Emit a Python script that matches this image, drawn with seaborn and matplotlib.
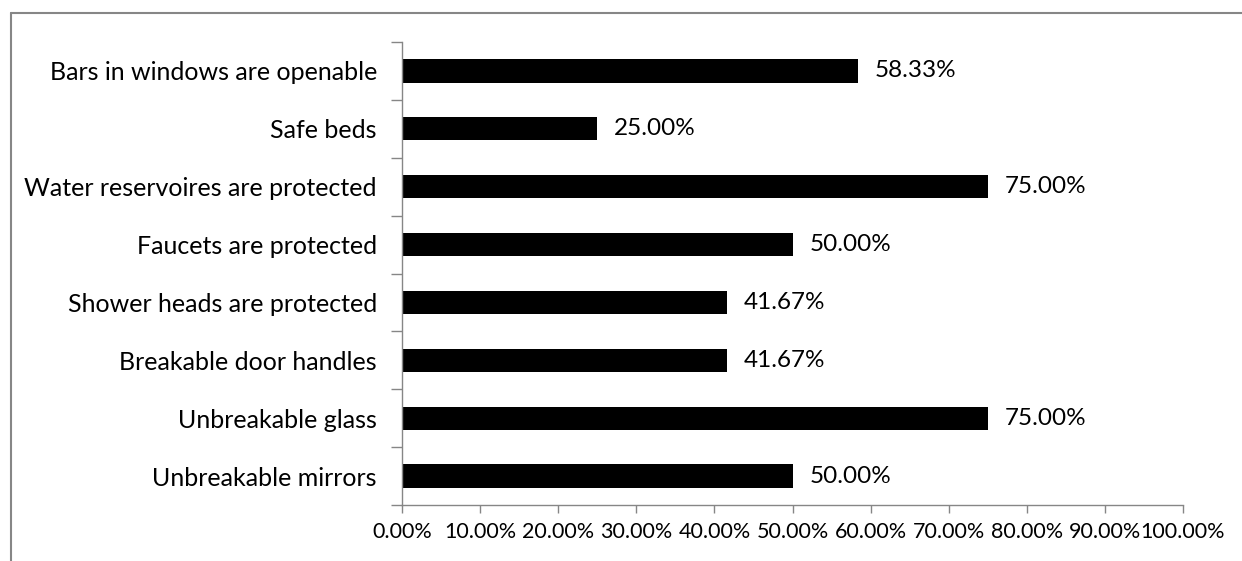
import matplotlib
matplotlib.use("Agg")
import matplotlib.pyplot as plt
from matplotlib.lines import Line2D
import seaborn as sns
import pandas as pd
import numpy as np

categories = [
    "Bars in windows are openable",
    "Safe beds",
    "Water reservoires are protected",
    "Faucets are protected",
    "Shower heads are protected",
    "Breakable door handles",
    "Unbreakable glass",
    "Unbreakable mirrors",
]
values = [58.33, 25.00, 75.00, 50.00, 41.67, 41.67, 75.00, 50.00]
x_ticks = [0, 10, 20, 30, 40, 50, 60, 70, 80, 90, 100]
x_tick_labels = [f"{t:.2f}%" for t in x_ticks]

sns.set_theme(style="white")
plt.rcParams["font.family"] = ["Lato", "DejaVu Sans"]

GRAY = "#868686"
FS_CAT = 18
FS_VAL = 17.5
FS_TICK = 15.5

df = pd.DataFrame({"category": categories, "value": values})

fig = plt.figure(figsize=(12.42, 5.61), dpi=100)
ax = fig.add_axes([402 / 1242, 1 - 505 / 561, (1183 - 402) / 1242, (505 - 42) / 561])

sns.barplot(data=df, x="value", y="category", orient="h", color="black",
            width=0.4, linewidth=0, saturation=1, ax=ax)

ax.set_xlim(0, 100)
ax.set_ylim(len(categories) - 0.5, -0.5)
ax.set_xticks(x_ticks)
ax.set_xticklabels(x_tick_labels, fontsize=FS_TICK, color="black")
ax.set_xlabel("")
ax.set_ylabel("")

ax.set_yticks(range(len(categories)))
ax.set_yticklabels(categories, fontsize=FS_CAT, color="black")
ax.set_yticks(np.arange(-0.5, len(categories), 1.0), minor=True)
ax.tick_params(axis="y", which="major", length=0, pad=18)
ax.tick_params(axis="y", which="minor", length=8, width=1, color=GRAY, left=True)
ax.tick_params(axis="x", which="major", length=6, width=1, color=GRAY, bottom=True, pad=6)

for side in ["top", "right"]:
    ax.spines[side].set_visible(False)
for side in ["left", "bottom"]:
    ax.spines[side].set_visible(True)
    ax.spines[side].set_color(GRAY)
    ax.spines[side].set_linewidth(1)

for i, v in enumerate(values):
    ax.annotate(f"{v:.2f}%", xy=(v, i), xytext=(12, 0), textcoords="offset points",
                ha="left", va="center", fontsize=FS_VAL, color="black")

# outer frame (top and left edges visible)
fx0 = 11 / 1242
fy0 = 1 - 13 / 561
fig.add_artist(Line2D([fx0, 1.0], [fy0, fy0], transform=fig.transFigure, color=GRAY, lw=1.5))
fig.add_artist(Line2D([fx0, fx0], [0.0, fy0], transform=fig.transFigure, color=GRAY, lw=1.5))

fig.savefig("out.png", dpi=100)
